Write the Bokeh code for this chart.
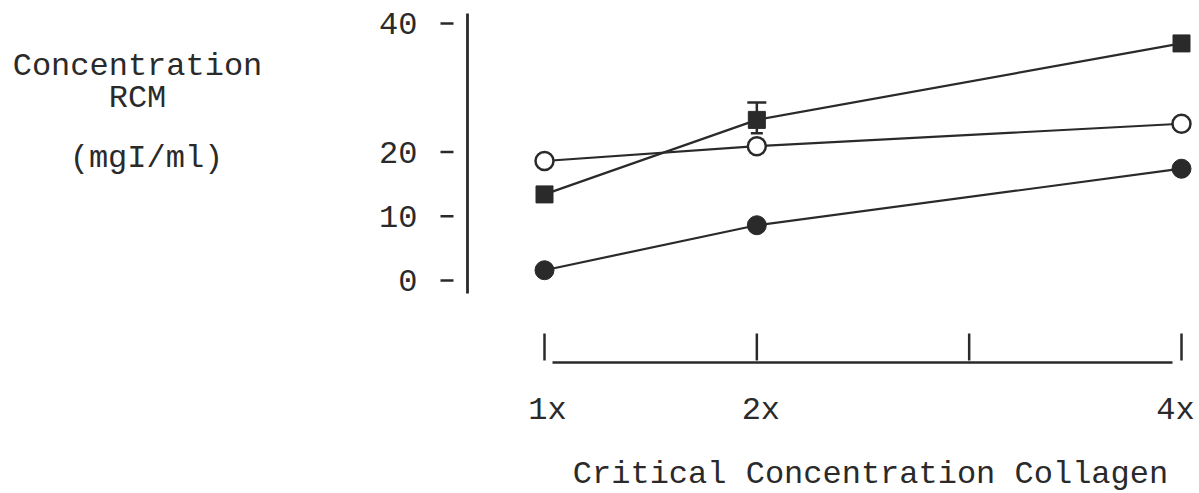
from bokeh.plotting import figure
from bokeh.models import Range1d, ColumnDataSource, Whisker, TeeHead
from bokeh.core.properties import value
from bokeh.embed import file_html
from bokeh.resources import INLINE

# ---- data -------------------------------------------------------------
collagen = [1, 2, 4]                      # critical concentration multiple
rcm_filled_square = [13.4, 25.0, 36.9]    # mgI/ml
rcm_open_circle = [18.6, 20.9, 24.4]
rcm_filled_circle = [1.6, 8.6, 17.4]

# spread of the filled-square series at 2x
err_x = [2]
err_lower = [22.9]
err_upper = [27.7]

y_ticks = [0, 10, 20, 40]
y_tick_labels = ["0", "10", "20", "40"]
x_ticks = [1, 2, 3, 4]
x_tick_labels = ["1x", "2x", "", "4x"]

# ---- page geometry (pixels) --------------------------------------------
W, H = 1199, 493
X1_PX, X4_PX = 544, 1181      # where 1x and 4x sit
Y0_PX, Y40_PX = 280, 23       # where 0 and 40 sit

SX = (X4_PX - X1_PX) / 3.0
SY = (Y0_PX - Y40_PX) / 40.0


def dx(px):
    return 1 + (px - X1_PX) / SX


def dy(py):
    return (Y0_PX - py) / SY


INK = "#2a2a2a"
FONT = "Liberation Mono"
FSIZE = "32px"

# the plotting area covers the whole page; the axes are drawn by hand
p = figure(width=W, height=H,
           x_range=Range1d(dx(0), dx(W)), y_range=Range1d(dy(H), dy(0)),
           min_border=0, x_axis_location=None, y_axis_location=None,
           output_backend="svg", toolbar_location=None)
p.outline_line_color = None
p.background_fill_color = "white"
p.border_fill_color = "white"
p.xgrid.grid_line_color = None
p.ygrid.grid_line_color = None


def text(xs, ys, labels, align="center", baseline="middle", x_offset=0):
    p.text(x=xs, y=ys, text=labels, text_font=value(FONT),
           text_font_size=value(FSIZE), text_color=INK,
           text_align=value(align), text_baseline=value(baseline),
           x_offset=x_offset)


# y axis: spine, detached dashes and numbers
p.segment(x0=[dx(467)], y0=[dy(293)], x1=[dx(467)], y1=[dy(13)],
          line_color=INK, line_width=2.8)
p.segment(x0=[dx(440)] * len(y_ticks), y0=y_ticks,
          x1=[dx(453)] * len(y_ticks), y1=y_ticks,
          line_color=INK, line_width=2.5)
text([dx(417)] * len(y_ticks), y_ticks, y_tick_labels, align="right")

# x axis: baseline with upright ticks standing above it, labels below
p.segment(x0=[dx(552)], y0=[dy(362)], x1=[dx(1172)], y1=[dy(362)],
          line_color=INK, line_width=2.5)
p.segment(x0=x_ticks, y0=[dy(360)] * len(x_ticks),
          x1=x_ticks, y1=[dy(333)] * len(x_ticks),
          line_color=INK, line_width=2.5)
text(x_ticks, [dy(410)] * len(x_ticks), x_tick_labels,
     x_offset=[3, 4, 0, -6])

# series lines
for ys in (rcm_filled_square, rcm_open_circle, rcm_filled_circle):
    p.line(collagen, ys, line_color=INK, line_width=2.2)

# error bar
err_src = ColumnDataSource(dict(x=err_x, lower=err_lower, upper=err_upper))
p.add_layout(Whisker(source=err_src, base="x", lower="lower", upper="upper",
                     dimension="height", line_color=INK, line_width=2.5,
                     upper_head=TeeHead(size=19, line_color=INK, line_width=2.5),
                     lower_head=TeeHead(size=12, line_color=INK, line_width=2.5)))

# markers
p.scatter(collagen, rcm_filled_square, marker="square", size=17,
          fill_color=INK, line_color=INK, line_width=1)
p.scatter(collagen, rcm_open_circle, marker="circle", size=18,
          fill_color="white", line_color=INK, line_width=2.5)
p.scatter(collagen, rcm_filled_circle, marker="circle", size=19,
          fill_color=INK, line_color=INK, line_width=1)

# axis titles
text([dx(137)], [dy(66)], ["Concentration"], baseline="alphabetic")
text([dx(137)], [dy(98)], ["RCM"], baseline="alphabetic")
text([dx(146)], [dy(158)], ["(mgI/ml)"], baseline="alphabetic")
text([dx(870)], [dy(474)], ["Critical Concentration Collagen"],
     baseline="middle")

open("out.html", "w").write(file_html(p, INLINE))
